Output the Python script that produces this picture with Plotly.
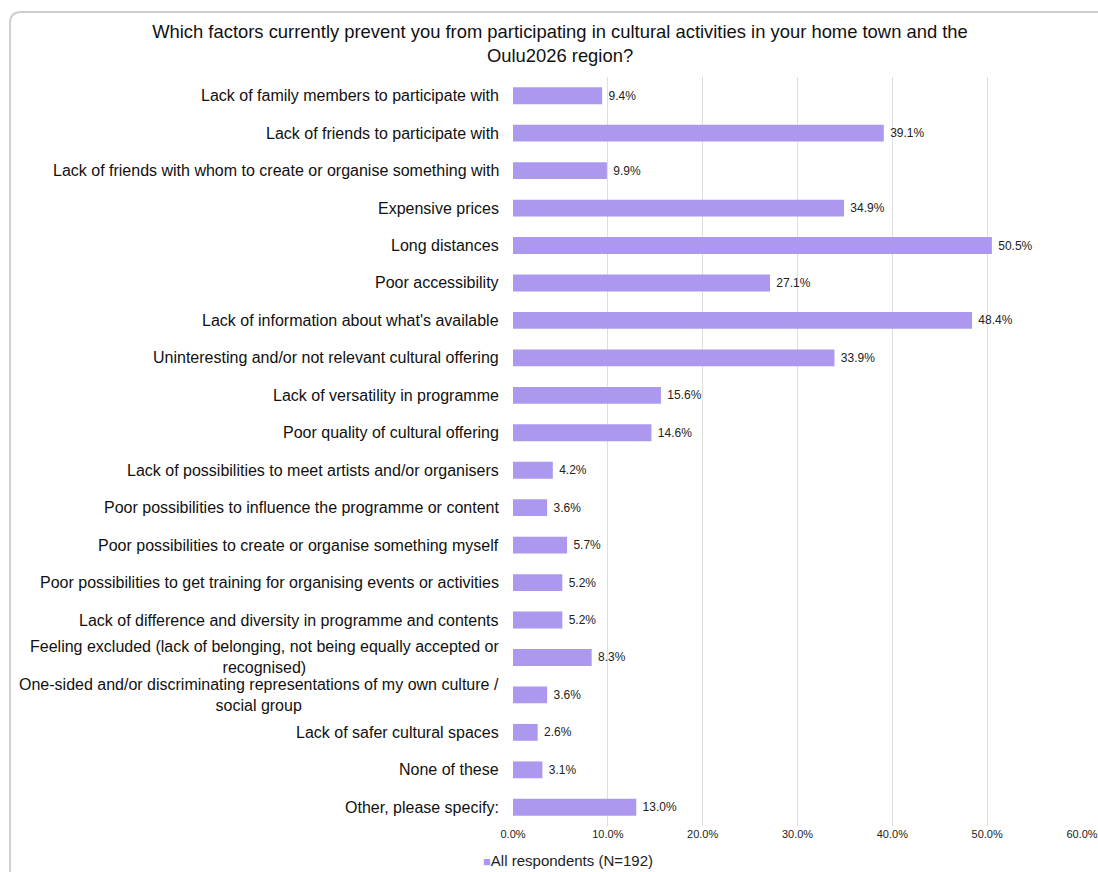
import plotly.graph_objects as go

categories = [
    "Lack of family members to participate with",
    "Lack of friends to participate with",
    "Lack of friends with whom to create or organise something with",
    "Expensive prices",
    "Long distances",
    "Poor accessibility",
    "Lack of information about what's available",
    "Uninteresting and/or not relevant cultural offering",
    "Lack of versatility in programme",
    "Poor quality of cultural offering",
    "Lack of possibilities to meet artists and/or organisers",
    "Poor possibilities to influence the programme or content",
    "Poor possibilities to create or organise something myself",
    "Poor possibilities to get training for organising events or activities",
    "Lack of difference and diversity in programme and contents",
    "Feeling excluded (lack of belonging, not being equally accepted or<br>recognised)",
    "One-sided and/or discriminating representations of my own culture /<br>social group",
    "Lack of safer cultural spaces",
    "None of these",
    "Other, please specify:",
]
values = [9.4, 39.1, 9.9, 34.9, 50.5, 27.1, 48.4, 33.9, 15.6, 14.6,
          4.2, 3.6, 5.7, 5.2, 5.2, 8.3, 3.6, 2.6, 3.1, 13.0]
x_ticks = [0, 10, 20, 30, 40, 50, 60]
x_tick_labels = ["0.0%", "10.0%", "20.0%", "30.0%", "40.0%", "50.0%", "60.0%"]
series_name = "All respondents (N=192)"

# body margin removed via post_script, so figure coords = screen coords
W, H = 1098, 872
L = 513
R = W - 1082
T = 77
B = H - 826
pw = W - L - R
ph = H - T - B

def px_x(x):
    return (x - L) / pw

def px_y(y):
    return (H - B - y) / ph

bar_color = "#ad98f0"
font = "Liberation Sans, Arial, sans-serif"

fig = go.Figure()
fig.add_trace(go.Bar(
    y=categories, x=values, orientation="h",
    marker=dict(color=bar_color, line=dict(width=0)),
    name=series_name,
    text=[f"\u00a0{v:.1f}%" for v in values],
    textposition="outside",
    textfont=dict(size=12, color="#222222", family=font),
    cliponaxis=False,
    showlegend=False,
))

# category labels (centered multi-line blocks, right-anchored)
for c in categories:
    fig.add_annotation(
        x=px_x(501), xref="paper", y=c, yref="y",
        text=c, showarrow=False, xanchor="right", yanchor="middle",
        align="center", font=dict(size=16, color="#111111", family=font),
    )

# legend entry
fig.add_annotation(
    x=px_x(481), xref="paper", y=px_y(860), yref="paper",
    text=f"<span style='font-size:13px;color:{bar_color}'>■</span>{series_name}",
    showarrow=False, xanchor="left", yanchor="middle",
    font=dict(size=15, color="#222222", family=font),
)

# rounded frame
x0, x1 = px_x(10), px_x(1120)
y0, y1 = px_y(12), px_y(900)
rx = 11 / pw
ry = 11 / ph
path = (f"M {x0},{y1} L {x0},{y0 - ry} Q {x0},{y0} {x0 + rx},{y0} "
        f"L {x1},{y0}")
fig.add_shape(type="path", path=path, xref="paper", yref="paper",
              line=dict(color="#cfcfcf", width=2), layer="below")

fig.update_layout(
    width=W, height=H,
    margin=dict(l=L, r=R, t=T, b=B, autoexpand=False),
    paper_bgcolor="white", plot_bgcolor="white",
    bargap=0.55,
    showlegend=False,
    title=dict(
        text="Which factors currently prevent you from participating in cultural activities in your home town and the<br>Oulu2026 region?",
        x=560 / W, xanchor="center", xref="container",
        y=1 - 38 / H, yanchor="middle", yref="container",
        font=dict(size=18.4, color="#111111", family=font),
    ),
    xaxis=dict(
        range=[0, 60], tickvals=x_ticks, ticktext=x_tick_labels,
        showgrid=True, gridcolor="#dedede", gridwidth=1,
        zeroline=False, showline=False,
        tickfont=dict(size=11, color="#222222", family=font),
        ticks="", fixedrange=True,
    ),
    yaxis=dict(
        autorange="reversed", showticklabels=False, showgrid=False,
        zeroline=False, showline=False, ticks="",
    ),
)

fig.write_html(
    "out.html",
    config={"displayModeBar": False},
    post_script="document.body.style.margin='0';document.body.style.overflow='hidden';",
)
